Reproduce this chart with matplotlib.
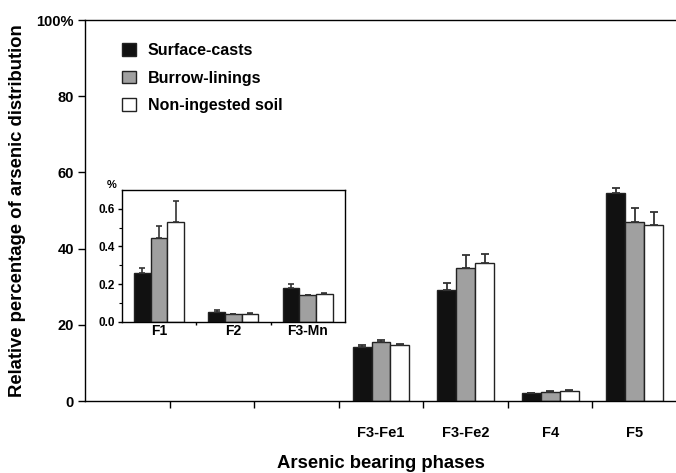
import matplotlib
matplotlib.use("Agg")
import matplotlib.pyplot as plt
import numpy as np
from matplotlib.patches import Patch

plt.rcParams['font.family'] = ['Liberation Sans', 'DejaVu Sans']
plt.rcParams['font.weight'] = 'bold'

# ---- data ----
series = ["Surface-casts", "Burrow-linings", "Non-ingested soil"]
colors = ["#111111", "#a0a0a0", "#ffffff"]

main_cats = ["", "", "", "F3-Fe1", "F3-Fe2", "F4", "F5"]
main_vals = {
    "Surface-casts":     [None, None, None, 14.3, 29.1, 2.0, 54.6],
    "Burrow-linings":    [None, None, None, 15.5, 35.0, 2.3, 46.9],
    "Non-ingested soil": [None, None, None, 14.7, 36.1, 2.55, 46.3],
}
main_err = {
    "Surface-casts":     [0, 0, 0, 0.5, 2.0, 0.15, 1.4],
    "Burrow-linings":    [0, 0, 0, 0.4, 3.3, 0.3, 3.7],
    "Non-ingested soil": [0, 0, 0, 0.15, 2.5, 0.35, 3.3],
}

inset_cats = ["F1", "F2", "F3-Mn"]
inset_vals = {
    "Surface-casts":     [0.258, 0.053, 0.178],
    "Burrow-linings":    [0.447, 0.039, 0.140],
    "Non-ingested soil": [0.529, 0.043, 0.146],
}
inset_err = {
    "Surface-casts":     [0.026, 0.008, 0.021],
    "Burrow-linings":    [0.060, 0.004, 0.004],
    "Non-ingested soil": [0.112, 0.002, 0.005],
}

W, H = 676, 473
fig = plt.figure(figsize=(W / 100, H / 100), dpi=100)

# ---- main axes ----
ax = fig.add_axes([85 / W, 72 / H, 592 / W, 381 / H])
bw = 0.224
x = np.arange(len(main_cats))
for i, s in enumerate(series):
    idx = [j for j, v in enumerate(main_vals[s]) if v is not None]
    xs = x[idx] + (i - 1) * bw
    vals = [main_vals[s][j] for j in idx]
    errs = [main_err[s][j] for j in idx]
    ax.bar(xs, vals, width=bw, color=colors[i], edgecolor="#222222", linewidth=1.0, zorder=2)
    ax.errorbar(xs, vals, yerr=[np.zeros(len(errs)), errs], fmt="none",
                ecolor="#333333", elinewidth=1.3, capsize=3, capthick=1.3, zorder=3)

ax.set_xlim(-0.5, len(main_cats) - 0.5)
ax.set_ylim(0, 100)
ax.spines['right'].set_visible(False)
for sp in ax.spines.values():
    sp.set_linewidth(1.0)
ax.set_xticks(np.arange(0.5, len(main_cats) - 0.5, 1.0))
ax.set_xticklabels([])
ax.tick_params(axis='x', which='major', direction='out', length=5, width=1)
ax.set_xticks(x, minor=True)
ax.set_xticklabels(main_cats, minor=True, fontsize=10.5, fontweight='bold')
ax.tick_params(axis='x', which='minor', length=0, pad=18)
ax.set_yticks([0, 20, 40, 60, 80, 100])
ax.set_yticklabels(["0", "20", "40", "60", "80", "100%"], fontsize=10.5, fontweight='bold')
ax.tick_params(axis='y', direction='out', length=5, width=1, pad=3)
ax.set_xlabel("Arsenic bearing phases", fontsize=13.3, fontweight='bold')
ax.xaxis.set_label_coords(0.5, (401 - 463) / 381)
ax.xaxis.label.set_va('center')
ax.set_ylabel("Relative percentage of arsenic distribution", fontsize=13.3,
              fontweight='bold')
ax.yaxis.set_label_coords((18 - 85) / 592, 0.5)
ax.yaxis.label.set_va('center')

handles = [Patch(facecolor=c, edgecolor="#222222", linewidth=1.0, label=s)
           for s, c in zip(series, colors)]
leg = ax.legend(handles=handles, loc='upper left', bbox_to_anchor=(0.052, 0.957),
                frameon=False, fontsize=11.5, handlelength=0.85, handleheight=0.85,
                handletextpad=0.75, labelspacing=0.8, borderaxespad=0)
for t in leg.get_texts():
    t.set_fontweight('bold')

# ---- inset ----
ia = fig.add_axes([121.7 / W, (H - 321.7) / H, 223.3 / W, 131.7 / H])
xi = np.arange(len(inset_cats))
for i, s in enumerate(series):
    xs = xi + (i - 1) * bw
    ia.bar(xs, inset_vals[s], width=bw, color=colors[i], edgecolor="#222222",
           linewidth=1.0, zorder=2)
    ia.errorbar(xs, inset_vals[s], yerr=[np.zeros(len(xs)), inset_err[s]], fmt="none",
                ecolor="#333333", elinewidth=1.2, capsize=2, capthick=1.2, zorder=3)
ia.set_xlim(-0.5, len(inset_cats) - 0.5)
ia.set_ylim(0, 0.7)
ia.set_xticks([0.5, 1.5])
ia.set_xticklabels([])
ia.tick_params(axis='x', which='major', direction='out', length=2.5, width=1)
ia.set_xticks(xi, minor=True)
ia.set_xticklabels(inset_cats, minor=True, fontsize=10, fontweight='bold')
ia.tick_params(axis='x', which='minor', length=0, pad=2)
ia.set_yticks([0, 0.2, 0.4, 0.6])
ia.set_yticklabels(["0.0", "0.2", "0.4", "0.6"], fontsize=8.5, fontweight='bold')
ia.set_yticks([0.1, 0.3, 0.5], minor=True)
ia.tick_params(axis='y', which='major', direction='out', length=3, width=1, pad=2)
ia.tick_params(axis='y', which='minor', direction='out', length=2, width=0.8)
for sp in ia.spines.values():
    sp.set_linewidth(1.0)
fig.text(111.7 / W, 1 - 185 / H, "%", fontsize=8, fontweight='bold', ha='center', va='center')

fig.savefig("out.png", dpi=100)
